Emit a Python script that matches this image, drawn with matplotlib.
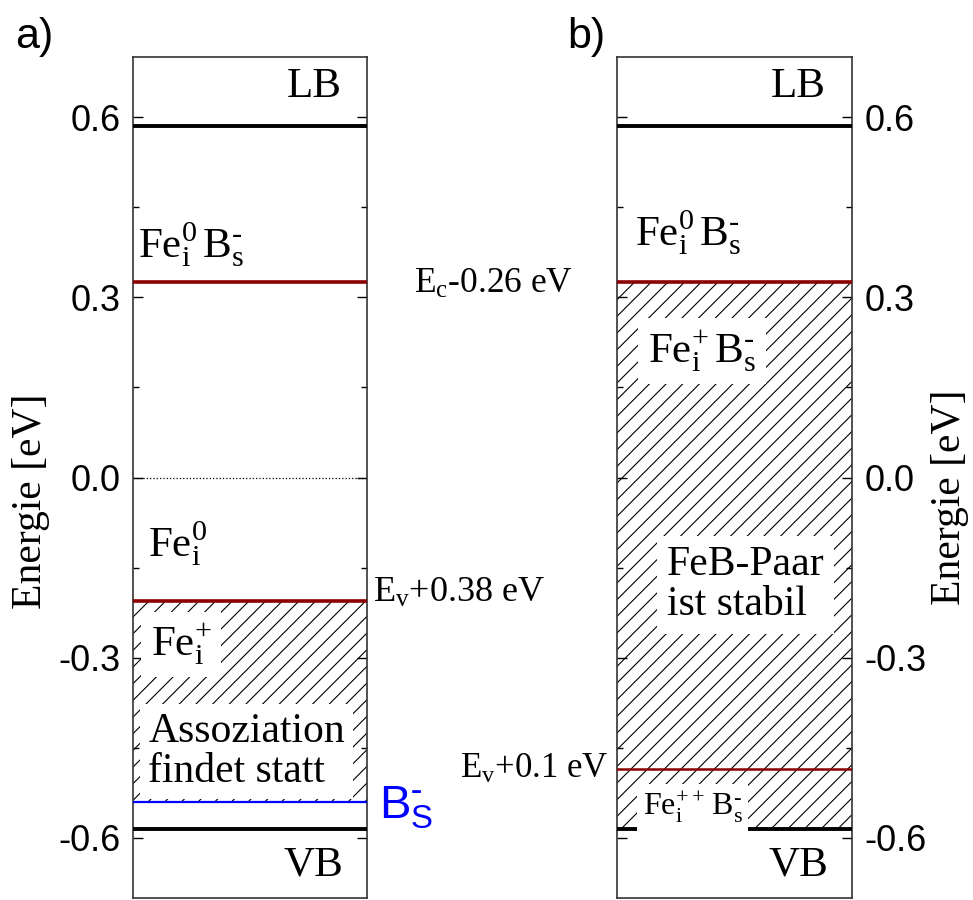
import matplotlib.pyplot as plt
from matplotlib.ticker import MultipleLocator

plt.rcParams['font.family'] = ['Liberation Serif', 'DejaVu Serif']
plt.rcParams['mathtext.fontset'] = 'custom'
plt.rcParams['mathtext.rm'] = 'Liberation Serif'
plt.rcParams['mathtext.it'] = 'Liberation Serif:italic'
plt.rcParams['mathtext.sf'] = 'Liberation Sans'
plt.rcParams['hatch.linewidth'] = 0.8
plt.rcParams['axes.unicode_minus'] = False

# Bandkanten und Niveaus (eV, Nullpunkt Bandmitte)
E_c = 0.585
E_v = -0.585
feb_level = E_c - 0.26        # Fe_i B_s Donatorniveau
fei_level = E_v + 0.38        # Fe_i Donatorniveau
feb_lower = E_v + 0.1         # zweites FeB-Niveau
bs_level = E_v + 0.045        # Bor-Akzeptor

sans = 'Liberation Sans'
red = '#8b0000'

fig = plt.figure(figsize=(9.73, 9.0), dpi=100)
axa = fig.add_axes([133/973, 2/900, 234/973, 841/900])
axb = fig.add_axes([617/973, 2/900, 235/973, 841/900])

for ax in (axa, axb):
    ax.set_xlim(0, 1)
    ax.set_ylim(-0.7, 0.7)
    ax.set_xticks([])
    ax.yaxis.set_major_locator(MultipleLocator(0.3))
    ax.yaxis.set_minor_locator(MultipleLocator(0.15))
    ax.tick_params(axis='y', which='both', direction='in', left=True, right=True,
                   width=1, labelsize=26, pad=9)
    ax.tick_params(axis='y', which='major', length=7)
    ax.tick_params(axis='y', which='minor', length=4)
    for s in ax.spines.values():
        s.set_linewidth(1.2)
        s.set_color('#333333')
    ax.set_ylabel('Energie [eV]', fontsize=30)
    ax.axhline(E_c, color='black', lw=2.8, zorder=3)
    ax.axhline(E_v, color='black', lw=2.8, zorder=3)
    ax.text(0.89, 0.65, 'LB', transform=ax.get_yaxis_transform(), fontsize=31,
            ha='right', va='center')
    ax.text(0.9, -0.645, 'VB', transform=ax.get_yaxis_transform(), fontsize=31,
            ha='right', va='center')

axb.yaxis.tick_right()
axb.tick_params(axis='y', which='both', left=True, right=True)
axb.yaxis.set_label_position('right')
for ax in (axa, axb):
    for lab in ax.get_yticklabels():
        lab.set_fontfamily(sans)
axa.yaxis.set_label_coords(-0.355, 0.472)
axb.yaxis.set_label_coords(1.335, 0.476)
axb.yaxis.label.set_rotation(90)

white = dict(facecolor='white', edgecolor='none', pad=4)

fe0b = r'Fe$_\mathrm{i}^\mathrm{0}\,$B$_\mathrm{s}^\text{-}$'

# --- a) isoliertes Fe_i ---
ta = axa.get_yaxis_transform()
axa.axhspan(bs_level, fei_level, facecolor='none', edgecolor='black', lw=0,
            hatch='//', zorder=1)
axa.axhline(0.0, color='black', lw=0.9, ls=':', zorder=2)
axa.axhline(feb_level, color=red, lw=2.6, zorder=3)
axa.axhline(fei_level, color=red, lw=2.6, zorder=3)
axa.axhline(bs_level, color='blue', lw=1.6, zorder=3)

axa.text(0.02, 0.367, fe0b, transform=ta, fontsize=31, va='baseline')
axa.text(0.065, -0.132, r'Fe$_\mathrm{i}^\mathrm{0}$', transform=ta,
         fontsize=31, va='baseline')
axa.text(0.075, -0.297, r'Fe$_\mathrm{i}^\mathrm{+}$', transform=ta,
         fontsize=31, va='baseline', bbox=dict(facecolor='white',
                                                edgecolor='none', pad=7),
         zorder=5)
axa.text(0.065, -0.507, 'Assoziation\nfindet statt', transform=ta,
         fontsize=30, va='baseline', linespacing=1.05,
         bbox=dict(facecolor='white', edgecolor='none', pad=6), zorder=5)
axa.text(1.2, 0.307, r'E$_\mathrm{c}$-0.26 eV', transform=ta, fontsize=25.5,
         va='baseline', clip_on=False)
axa.text(1.025, -0.207, r'E$_\mathrm{v}$+0.38 eV', transform=ta, fontsize=26,
         va='baseline', clip_on=False)
axa.text(1.05, -0.567, r'$\mathsf{B}_\mathsf{S}^\text{-}$', transform=ta,
         fontsize=34, color='blue', va='baseline', clip_on=False)

# --- b) FeB-Paar ---
tb = axb.get_yaxis_transform()
axb.axhspan(E_v, feb_level, facecolor='none', edgecolor='black', lw=0,
            hatch='//', zorder=1)
axb.axhline(feb_level, color=red, lw=2.6, zorder=3)
axb.axhline(feb_lower, color=red, lw=1.8, zorder=3)

axb.text(0.077, 0.387, fe0b, transform=tb, fontsize=31, va='baseline')
axb.text(0.13, 0.192, r'Fe$_\mathrm{i}^\mathrm{+}\,$B$_\mathrm{s}^\text{-}$',
         transform=tb, fontsize=31, va='baseline',
         bbox=dict(facecolor='white', edgecolor='none', pad=7), zorder=5)
axb.text(0.213, -0.229, 'FeB-Paar\nist stabil', transform=tb, fontsize=30,
         va='baseline', linespacing=1.05,
         bbox=dict(facecolor='white', edgecolor='none', pad=7), zorder=5)
axb.text(0.11, -0.563, r'Fe$_\mathrm{i}^\mathrm{++}\,$B$_\mathrm{s}^\text{-}$',
         transform=tb, fontsize=23, va='baseline', bbox=white, zorder=5)
fig.text(608/973, 1 - 778/900, r'E$_\mathrm{v}$+0.1 eV', fontsize=25,
         ha='right', va='baseline')

fig.text(15/973, 1 - 48/900, 'a)', fontsize=31, family=sans, va='baseline')
fig.text(567/973, 1 - 48/900, 'b)', fontsize=31, family=sans, va='baseline')

fig.savefig('out.png', dpi=100)
